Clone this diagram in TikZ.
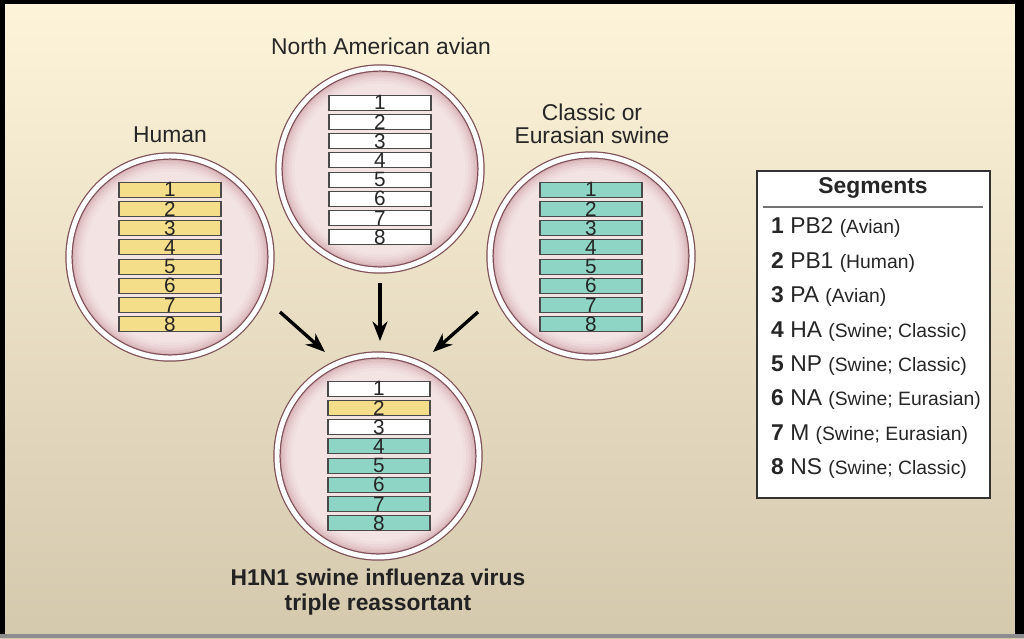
\documentclass[tikz,border=0pt]{standalone}
\usepackage{fontspec}
\setmainfont{Liberation Sans}
\usetikzlibrary{arrows.meta}
\definecolor{bgtop}{HTML}{FDF4DA}
\definecolor{bgbot}{HTML}{D4C8AD}
\definecolor{humanyel}{HTML}{F5DE8A}
\definecolor{swineteal}{HTML}{8FD5C5}
\definecolor{cellpink}{HTML}{F3E3E3}
\definecolor{celledge}{HTML}{CFA1A8}
\definecolor{cellline}{HTML}{7E4F56}
\definecolor{bardark}{HTML}{4A4A4A}
\definecolor{inkgray}{HTML}{262626}
\newcommand{\bigtxt}{\fontsize{13}{13.4}\selectfont}
\newcommand{\smalltxt}{\fontsize{11}{13}\selectfont}
\newcommand{\bartxt}{\fontsize{11.8}{11.8}\selectfont}
\begin{document}
\begin{tikzpicture}[x=0.2mm,y=-0.2mm,
  cell/.style={circle,inner sep=0pt,minimum size=40.4mm,draw=cellline,line width=0.7pt,double=white,double distance=2.8pt,fill=cellpink,
    path picture={\foreach \rr/\p in {19.4/75,18.9/52,18.4/34,17.9/20,17.4/9}
      \draw[celledge!\p!cellpink,line width=0.55mm] (path picture bounding box.center) circle (\rr mm);}},
  seg/.style={draw=bardark,line width=0.6pt,inner sep=0pt,minimum width=20.4mm,minimum height=3mm,font=\bartxt,text=inkgray},
  lab/.style={font=\bigtxt,text=inkgray,align=center},
  feed/.style={line width=1.9pt,-{Stealth[length=3.9mm,width=3mm]}}]
% 1px = 0.2mm, y runs down
\useasboundingbox (0,0) rectangle (1024,638);
\shade[top color=bgtop,bottom color=bgbot] (0,0) rectangle (1024,638);
\fill[black] (0,0) rectangle (1024,4); \fill[black] (0,0) rectangle (5,638);
\fill[black] (1015,0) rectangle (1024,638); \fill[black!45] (0,634) rectangle (1024,638);

% the three parents and the reassortant
\node[cell] (human) at (170,257) {};
\node[cell] (avian) at (380,169) {};
\node[cell] (swine) at (591,256) {};
\node[cell] (mixed) at (378,456) {};
\foreach \i in {1,...,8} {
  \node[seg,fill=humanyel] (hu\i) at (170,{257+(\i-4.5)*19.2}) {\i};
  \node[seg,fill=white] (av\i) at (380,{170+(\i-4.5)*19.2}) {\i};
  \node[seg,fill=swineteal] (sw\i) at (591,{257+(\i-4.5)*19.2}) {\i};
}
\foreach \i/\col in {1/white,2/humanyel,3/white,4/swineteal,5/swineteal,6/swineteal,7/swineteal,8/swineteal}
  \node[seg,fill=\col] (mx\i) at (379,{456+(\i-4.5)*19.2}) {\i};

\node[lab] (humanlab) at (170,135) {Human};
\node[lab] (avianlab) at (381,46) {North American avian};
\node[lab] (swinelab) at (592,124) {Classic or\\Eurasian swine};
\node[lab,font=\bigtxt\bfseries,text=inkgray!90!black] (mixedlab) at (378,592) {H1N1 swine influenza virus\\[0.8pt]triple reassortant};

% arrows into the reassortant
\coordinate (hufrom) at (280,312); \coordinate (huto) at (325,352);
\coordinate (avfrom) at (380,283); \coordinate (avto) at (380,341);
\coordinate (swfrom) at (478,312); \coordinate (swto) at (433,352);
\draw[feed] (hufrom) -- (huto);
\draw[feed] (avfrom) -- (avto);
\draw[feed] (swfrom) -- (swto);

% legend
\node[draw=black!80,line width=1.1pt,fill=white,minimum width=46.6mm,minimum height=65.4mm] (legend) at (873.5,334.5) {};
\node[lab,font=\bigtxt\bfseries] (legtitle) at (873,188) {Segments};
\coordinate (rulel) at (763,207); \coordinate (ruler) at (983,207);
\draw[black!55,line width=1pt] (rulel) -- (ruler);
\foreach \i/\nm/\src in {1/PB2/Avian,2/PB1/Human,3/PA/Avian,4/HA/{Swine; Classic},5/NP/{Swine; Classic},6/NA/{Swine; Eurasian},7/M/{Swine; Eurasian},8/NS/{Swine; Classic}}
  \node[lab,anchor=west] (key\i) at (765,{228+(\i-1)*34.4}) {{\bfseries\i} \nm\ {\smalltxt(\src)}};
\end{tikzpicture}
\end{document}
